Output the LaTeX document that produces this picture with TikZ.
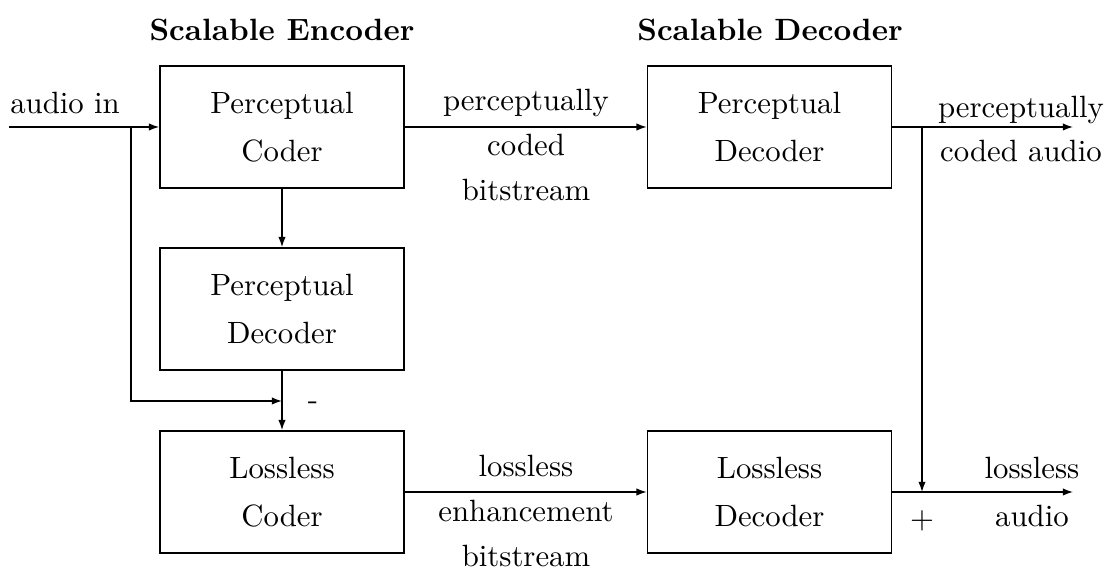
\documentclass[tikz,border=0pt]{standalone}
\usetikzlibrary{arrows.meta}
\begin{document}
\begin{tikzpicture}[x=0.325pt,y=-0.325pt,
  blk/.style={draw,line width=0.55pt,minimum width=79.3pt,minimum height=39.65pt,inner sep=0pt,
    align=center,font=\fontsize{10}{15.6}\selectfont},
  lbl/.style={inner sep=0pt,align=center,font=\fontsize{10}{14.6}\selectfont},
  ttl/.style={inner sep=0pt,font=\fontsize{10}{12}\selectfont\bfseries},
  arr/.style={line width=0.45pt,-{Latex[length=3.3pt,width=2.4pt]}},
  ln/.style={line width=0.45pt}]
\useasboundingbox (0,0) rectangle (1109,577);

% titles
\node[ttl] (tenc) at (282,30) {Scalable Encoder};
\node[ttl] (tdec) at (770,30) {Scalable Decoder};

% encoder blocks
\node[blk] (pc)  at (282,127) {Perceptual\\Coder};
\node[blk] (pde) at (282,309) {Perceptual\\Decoder};
\node[blk] (lc)  at (282,492) {Lossless\\Coder};

% decoder blocks
\node[blk] (pdd) at (769.5,127) {Perceptual\\Decoder};
\node[blk] (ld)  at (769.5,492) {Lossless\\Decoder};

% junction and end points
\coordinate (in)   at (9,127);
\coordinate (tapL) at (131,127);
\coordinate (sumL) at (282,401);
\coordinate (tapR) at (922,127);
\coordinate (sumR) at (922,492);
\coordinate (outP) at (1073,127);
\coordinate (outL) at (1073,492);

% encoder connections
\draw[arr] (in) -- (pc.west);
\draw[arr] (tapL) |- (sumL);
\draw[arr] (pc.south) -- (pde.north);
\draw[arr] (pde.south) -- (lc.north);

% bitstreams
\draw[arr] (pc.east) -- (pdd.west);
\draw[arr] (lc.east) -- (ld.west);

% decoder outputs
\draw[arr] (pdd.east) -- (outP);
\draw[arr] (tapR) -- (sumR);
\draw[arr] (ld.east) -- (outL);

% labels
\node[lbl] (lin)  at (65,103) {audio in};
\node[lbl] (lpb)  at (526,145) {perceptually\\coded\\bitstream};
\node[lbl] (leb)  at (526,511) {lossless\\enhancement\\bitstream};
\node[lbl] (lpa)  at (1021,129) {perceptually\\coded audio};
\node[lbl,font=\fontsize{10}{15.4}\selectfont] (lla) at (1032,492) {lossless\\audio};
\node[lbl] (lmin) at (313,406) {-};
\node[lbl] (lplu) at (922,521) {$+$};
\end{tikzpicture}
\end{document}
